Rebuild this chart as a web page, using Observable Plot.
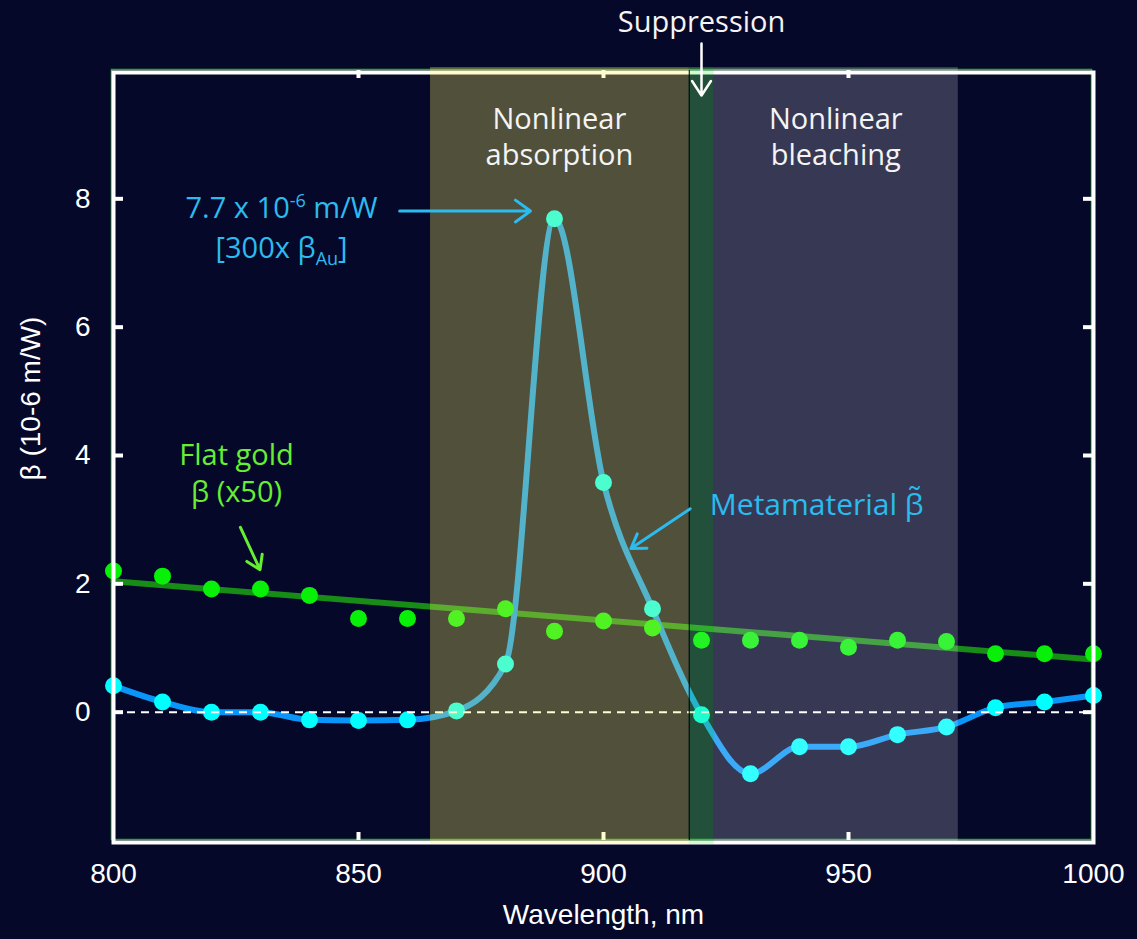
<!DOCTYPE html>
<html><head><meta charset="utf-8">
<script src="https://cdn.jsdelivr.net/npm/d3@7"></script>
<script src="https://cdn.jsdelivr.net/npm/@observablehq/plot@0.6"></script>
<style>html,body{margin:0;padding:0;background:#06082a;} svg{display:block}</style>
</head><body><div id="chart"></div>
<script>
// ---- data ----
const wavelengths = [800,810,820,830,840,850,860,870,880,890,900,910,920,930,940,950,960,970,980,990,1000];
const metamaterialBeta = [0.41,0.16,0.0,0.0,-0.12,-0.13,-0.12,0.02,0.75,7.69,3.58,1.61,-0.04,-0.96,-0.54,-0.54,-0.35,-0.23,0.07,0.16,0.26];
const flatGoldBeta = [2.20,2.12,1.92,1.92,1.82,1.46,1.46,1.46,1.61,1.26,1.42,1.31,1.12,1.12,1.12,1.01,1.12,1.10,0.91,0.91,0.91];
const goldFitWavelengths = [800,1000];
const goldFitBeta = [2.04,0.82];
const xTicks = [800,850,900,950,1000];
const xInnerTicks = [850,900,950];
const yTicks = [0,2,4,6,8];
const regionNames = ["absorption","suppression","bleaching"];
const regionStart = [864.7,917.5,922.6];
const regionEnd = [917.5,922.6,972.4];

// annotation anchors in data coordinates (wavelength, beta)
const regionLabelText = ["Nonlinear\nabsorption","Nonlinear\nbleaching"];
const regionLabelX = [891.0,947.4];
const regionLabelY = [8.99,8.99];

// ---- styles ----
const BG = "#06082a";
const regionStyle = {
  absorption: {fill:"rgb(252,248,100)", opacity:0.3},
  suppression: {fill:"rgb(99,248,100)", opacity:0.3},
  bleaching: {fill:"#ffffff", opacity:0.2}
};
const BLUE_TXT = "#2bbbee";
const GREEN_TXT = "#66ee33";
const ANN_FONT = "'Open Sans', Lato, sans-serif";
const AX_FONT = "'Liberation Sans', Arial, sans-serif";

const meta = wavelengths.map((w,i)=>({w, b: metamaterialBeta[i]}));
const gold = wavelengths.map((w,i)=>({w, b: flatGoldBeta[i]}));
const goldFit = goldFitWavelengths.map((w,i)=>({w, b: goldFitBeta[i]}));
const regions = regionNames.map((n,i)=>({name:n, x1:regionStart[i], x2:regionEnd[i]}));

const W = 1137, H = 939, ML = 113, MR = 44, MT = 70, MB = 99;
const PW = W-ML-MR, PH = H-MT-MB;

const PEAK_TEXT = "7.7 x 10-6 m/W";
const RATIO_TEXT = "[300x βAu]";

const marks = [
  Plot.frame({stroke:"#22aa22", strokeWidth:1.5, dx:-2, dy:-1}),
  Plot.line(goldFit, {x:"w", y:"b", stroke:"#178c17", strokeWidth:6}),
  Plot.line(meta, {x:"w", y:"b", curve:"monotone-x", stroke:"#0a96f8", strokeWidth:6}),
  Plot.dot(gold, {x:"w", y:"b", r:8.5, fill:"#08f008"}),
  Plot.dot(meta, {x:"w", y:"b", r:8.5, fill:"#00ffff"}),
  Plot.ruleY([0], {stroke:"#ffffff", strokeWidth:2, strokeDasharray:"8,6"}),
  Plot.frame({stroke:"white", strokeWidth:4, dy:2}),
  Plot.tickY(yTicks, {y:d=>d, stroke:"white", strokeWidth:4, insetRight:PW-10}),
  Plot.tickY(yTicks, {y:d=>d, stroke:"white", strokeWidth:4, insetLeft:PW-10}),
  Plot.tickX(xInnerTicks, {x:d=>d, stroke:"white", strokeWidth:4, insetTop:PH-8}),
  Plot.tickX(xInnerTicks, {x:d=>d, stroke:"white", strokeWidth:4, insetBottom:PH-8})
];
for (const r of regions) {
  marks.push(Plot.rect([r], {x1:"x1", x2:"x2", fill:regionStyle[r.name].fill, fillOpacity:regionStyle[r.name].opacity, insetTop:-3, insetBottom:-4}));
}
marks.push(
  Plot.ruleX([regionStart[1]], {stroke:"black", strokeWidth:1}),
  // axes labels
  Plot.text(xTicks, {x:d=>d, frameAnchor:"bottom", dy:42, text:d=>String(d), fill:"white", fontSize:28, fontFamily:AX_FONT}),
  Plot.text(yTicks, {y:d=>d, frameAnchor:"left", dx:-23, textAnchor:"end", text:d=>String(d), fill:"white", fontSize:28, fontFamily:AX_FONT}),
  Plot.text(["Wavelength, nm"], {frameAnchor:"bottom", dy:83, text:d=>d, fill:"white", fontSize:28, fontFamily:AX_FONT}),
  Plot.text(["β (10-6 m/W)"], {frameAnchor:"left", dx:-82, dy:-57, rotate:-90, textAnchor:"middle", text:d=>d, fill:"white", fontSize:28, fontFamily:AX_FONT}),
  // region labels
  Plot.text(regionLabelText, {x:(d,i)=>regionLabelX[i], y:(d,i)=>regionLabelY[i], text:d=>d, fill:"#f4f4f4", fontSize:29, lineHeight:1.25, fontFamily:ANN_FONT}),
  Plot.text(["Suppression"], {x:[920.0], y:[10.75], text:d=>d, fill:"#f4f4f4", fontSize:29, fontFamily:ANN_FONT}),
  Plot.arrow([{x1:920.0,y1:10.42,x2:920.0,y2:9.61}], {x1:"x1",y1:"y1",x2:"x2",y2:"y2", stroke:"white", strokeWidth:2.5, headLength:10.5, headAngle:66}),
  // peak annotation
  Plot.text([PEAK_TEXT], {x:[834.3], y:[7.85], text:d=>d, fill:BLUE_TXT, fontSize:29, fontFamily:ANN_FONT}),
  Plot.text([RATIO_TEXT], {x:[834.3], y:[7.22], text:d=>d, fill:BLUE_TXT, fontSize:29, fontFamily:ANN_FONT}),
  Plot.arrow([{x1:858.4,y1:7.81,x2:885.1,y2:7.81}], {x1:"x1",y1:"y1",x2:"x2",y2:"y2", stroke:BLUE_TXT, strokeWidth:3, headLength:9.3, headAngle:72}),
  // metamaterial annotation
  Plot.text(["Metamaterial β\u0303"], {x:[921.7], y:[3.22], textAnchor:"start", text:d=>d, fill:BLUE_TXT, fontSize:30, fontFamily:ANN_FONT}),
  Plot.arrow([{x1:917.7,y1:3.17,x2:905.6,y2:2.55}], {x1:"x1",y1:"y1",x2:"x2",y2:"y2", stroke:BLUE_TXT, strokeWidth:3, headLength:8, headAngle:66}),
  // flat gold annotation
  Plot.text(["Flat gold\nβ (x50)"], {x:[825.1], y:[3.75], text:d=>d, fill:GREEN_TXT, fontSize:29, lineHeight:1.3, fontFamily:ANN_FONT}),
  Plot.arrow([{x1:825.9,y1:2.88,x2:829.9,y2:2.22}], {x1:"x1",y1:"y1",x2:"x2",y2:"y2", stroke:GREEN_TXT, strokeWidth:3, headLength:8, headAngle:66})
);

const chart = Plot.plot({
  width:W, height:H, marginLeft:ML, marginRight:MR, marginTop:MT, marginBottom:MB,
  x:{domain:[800,1000], axis:null},
  y:{domain:[-2,10], axis:null},
  style:{background:BG, color:"white", fontFamily:AX_FONT, overflow:"visible"},
  marks
});
document.getElementById("chart").appendChild(chart);

// superscript / subscript formatting on the peak annotation
const NS = "http://www.w3.org/2000/svg";
function rich(content, parts) {
  const t = Array.from(chart.querySelectorAll("text")).find(e => e.textContent === content);
  if (!t) return;
  while (t.firstChild) t.removeChild(t.firstChild);
  for (const p of parts) {
    const s = document.createElementNS(NS, "tspan");
    s.textContent = p.t;
    if (p.size) s.setAttribute("font-size", p.size);
    if (p.dy) s.setAttribute("dy", p.dy);
    t.appendChild(s);
  }
}
rich(PEAK_TEXT, [{t:"7.7 x 10"},{t:"-6", size:18, dy:-11},{t:" m/W", size:29, dy:11}]);
rich(RATIO_TEXT, [{t:"[300x β"},{t:"Au", size:18, dy:7},{t:"]", size:29, dy:-7}]);
</script>
</body></html>
